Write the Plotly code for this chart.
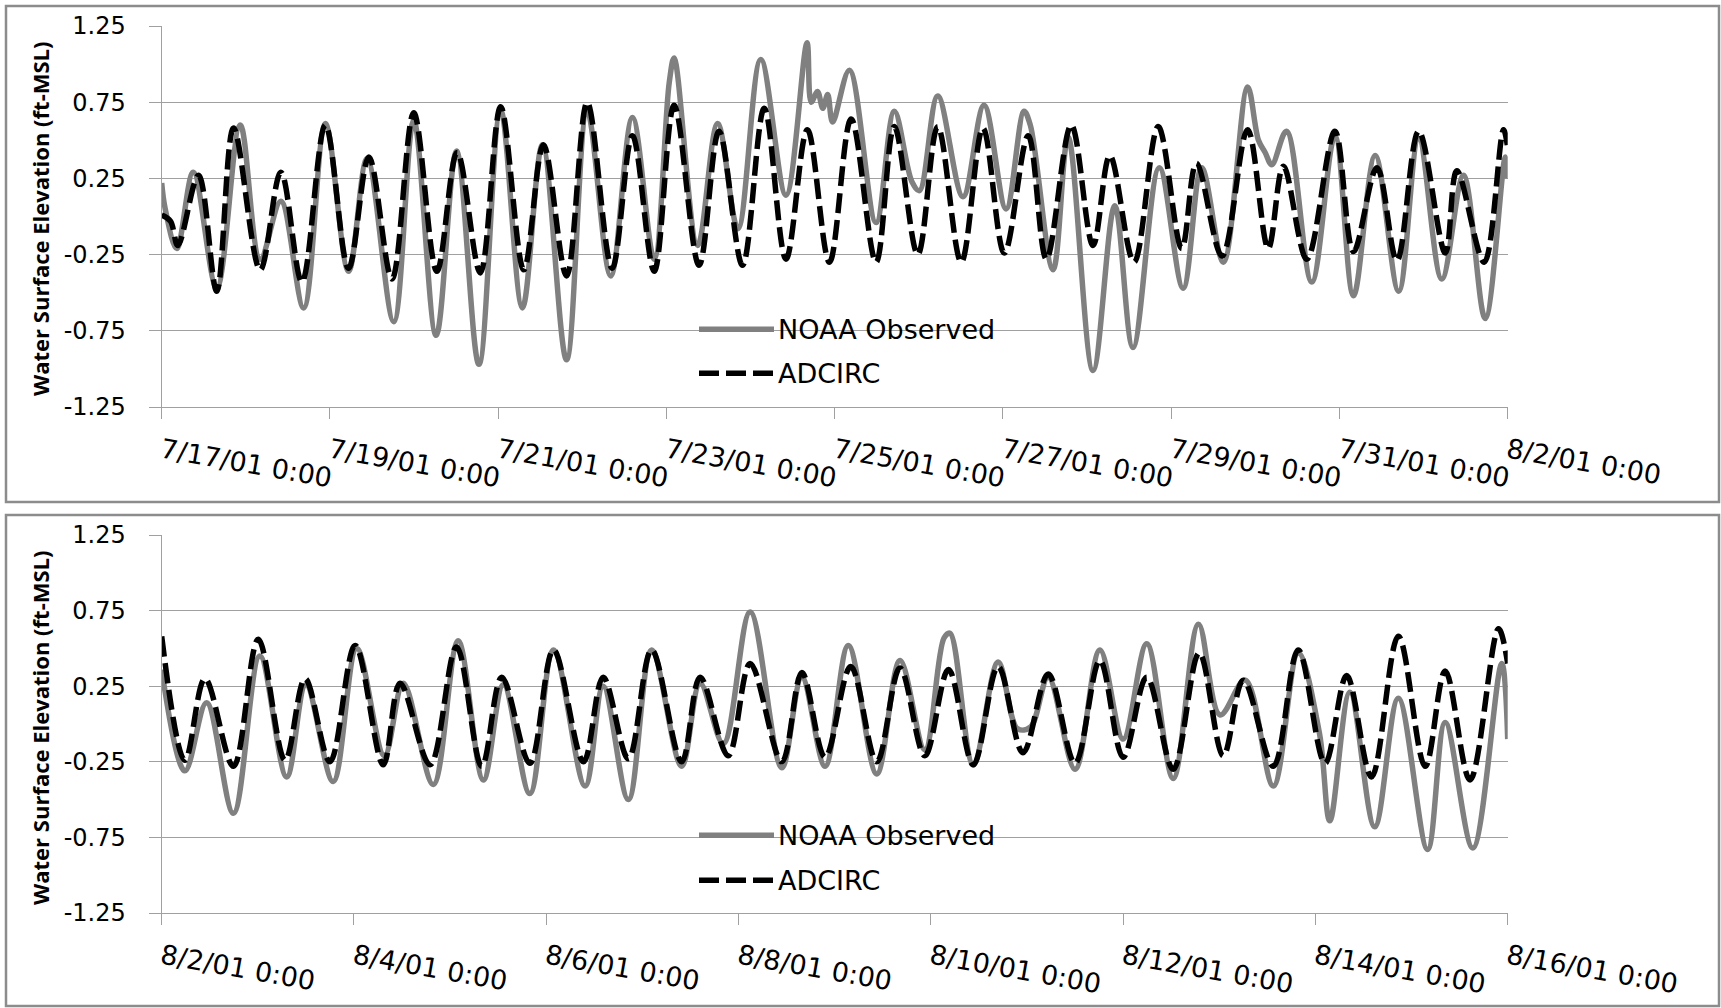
import pandas as pd
import plotly.graph_objects as go

# ---------------- DATA ----------------
# Panel 1 : 7/17/2001 -> 8/2/2001 (hours since 7/17/01 0:00)
p1_start = "2001-07-17 00:00"
p1_end = "2001-08-02 00:00"
p1_obs_hours = [0, 1, 4.3, 9.0, 15.7, 22.4, 28.1, 34.0, 40.5, 46.7, 53.3, 58.6, 66.2, 71.9,
                78.3, 84.1, 90.5, 96.7, 102.9, 108.6, 115.5, 121.4, 128.1, 134.3, 140.5,
                144.8, 146.2, 152.9, 158.6, 164.4, 170.9, 178.1, 184.1, 185.3, 187.1, 188.6,
                190.0, 191.4, 196.2, 203.8, 209.0, 214.0, 216.2, 221.4, 228.6, 234.6, 240.9,
                246.0, 247.8, 254.3, 258.6, 265.7, 271.9, 277.1, 284.6, 291.4, 296.7, 302.9,
                309.8, 312.9, 314.8, 316.7, 320.9, 328.1, 334.7, 340.0, 346.2, 352.9, 358.6,
                365.2, 371.4, 377.6, 383.3, 384.0]
p1_obs_vals = [0.22, 0.05, -0.21, 0.29, -0.47, 0.60, -0.28, 0.10, -0.60, 0.61, -0.36, 0.38, -0.69, 0.63,
               -0.78, 0.43, -0.97, 0.70, -0.60, 0.47, -0.94, 0.69, -0.39, 0.65, -0.28,
               0.88, 1.04, -0.19, 0.61, -0.08, 1.03, 0.14, 1.14, 0.75, 0.82, 0.71,
               0.80, 0.62, 0.96, -0.04, 0.69, 0.23, 0.17, 0.79, 0.13, 0.73, 0.05,
               0.69, 0.60, -0.35, 0.52, -1.01, 0.07, -0.86, 0.32, -0.47, 0.32, -0.30,
               0.85, 0.50, 0.42, 0.34, 0.56, -0.43, 0.53, -0.52, 0.40, -0.49, 0.51,
               -0.41, 0.27, -0.67, 0.39, 0.25]
p1_adc_hours = [0, 2.5, 4.6, 10.5, 15.7, 20.5, 28.1, 34.0, 40.0, 46.7, 53.3, 59.1, 65.7, 71.9,
                78.5, 84.3, 90.9, 96.7, 103.3, 108.9, 115.5, 121.4, 128.5, 134.3, 140.5, 146.2,
                153.3, 159.0, 165.7, 171.9, 178.1, 184.2, 190.5, 196.7, 203.8, 209.0, 215.7,
                221.4, 228.1, 234.3, 240.4, 247.2, 252.4, 259.5, 265.7, 270.5, 277.4, 284.3,
                291.0, 295.2, 302.5, 309.8, 315.7, 320.0, 326.7, 334.7, 340.0, 346.7, 352.4,
                358.6, 366.2, 369.5, 377.3, 382.8, 384.0]
p1_adc_vals = [0.01, -0.03, -0.19, 0.27, -0.49, 0.58, -0.35, 0.29, -0.43, 0.60, -0.34, 0.39, -0.41, 0.68,
               -0.36, 0.42, -0.37, 0.72, -0.35, 0.47, -0.39, 0.75, -0.34, 0.53, -0.36, 0.73,
               -0.32, 0.56, -0.32, 0.71, -0.28, 0.57, -0.30, 0.64, -0.30, 0.59, -0.25,
               0.59, -0.30, 0.58, -0.24, 0.53, -0.28, 0.60, -0.19, 0.40, -0.30, 0.59,
               -0.21, 0.35, -0.26, 0.57, -0.21, 0.33, -0.28, 0.56, -0.23, 0.32, -0.29,
               0.56, -0.24, 0.30, -0.30, 0.57, 0.45]

# Panel 2 : 8/2/2001 -> 8/16/2001 (hours since 8/2/01 0:00)
p2_start = "2001-08-02 00:00"
p2_end = "2001-08-16 00:00"
p2_obs_hours = [0, 5.8, 11.2, 17.9, 24.5, 31.2, 36.0, 42.8, 48.7, 55.6, 60.3, 67.8, 74.0, 80.3,
                85.3, 91.9, 97.8, 105.7, 110.2, 116.5, 122.3, 129.8, 134.4, 140.2, 146.9, 154.8,
                159.8, 165.6, 171.4, 178.5, 184.3, 190.5, 195.3, 196.8, 202.6, 208.8, 213.6,
                216.9, 221.3, 228.0, 234.2, 240.0, 245.9, 252.5, 258.8, 264.2, 270.5, 277.5,
                283.7, 289.0, 291.6, 296.6, 302.8, 308.7, 316.0, 320.4, 327.3, 334.5, 336.0]
p2_obs_vals = [0.36, -0.31, 0.14, -0.59, 0.45, -0.35, 0.26, -0.38, 0.50, -0.21, 0.27, -0.40, 0.55, -0.37,
               0.26, -0.46, 0.49, -0.41, 0.25, -0.50, 0.49, -0.28, 0.27, -0.13, 0.74, -0.29,
               0.31, -0.28, 0.52, -0.33, 0.42, -0.17, 0.57, 0.60, -0.27, 0.41, -0.03,
               -0.02, 0.31, -0.30, 0.49, -0.10, 0.53, -0.36, 0.66, 0.06, 0.29, -0.41,
               0.47, -0.06, -0.64, 0.21, -0.68, 0.17, -0.83, 0.01, -0.82, 0.40, -0.10]
p2_adc_hours = [0, 5.8, 10.8, 17.9, 24.1, 30.8, 35.8, 42.0, 48.3, 55.3, 59.5, 67.0, 73.6, 79.9,
                84.9, 91.9, 97.8, 105.3, 110.2, 116.5, 122.3, 129.8, 134.4, 141.4, 146.9, 154.8,
                159.8, 165.6, 172.0, 178.5, 184.3, 190.5, 196.4, 202.6, 208.8, 215.0, 221.3,
                228.0, 234.2, 240.0, 245.9, 252.5, 259.0, 265.0, 270.0, 277.5, 283.7, 290.4,
                295.8, 302.0, 308.7, 315.4, 320.4, 326.6, 333.7, 336.0]
p2_adc_vals = [0.58, -0.24, 0.30, -0.28, 0.56, -0.24, 0.30, -0.25, 0.52, -0.27, 0.27, -0.27, 0.51, -0.28,
               0.31, -0.26, 0.49, -0.25, 0.31, -0.23, 0.49, -0.25, 0.31, -0.21, 0.40, -0.25,
               0.34, -0.22, 0.38, -0.25, 0.37, -0.21, 0.36, -0.27, 0.38, -0.19, 0.33,
               -0.26, 0.42, -0.22, 0.31, -0.30, 0.47, -0.21, 0.29, -0.28, 0.49, -0.26,
               0.32, -0.35, 0.58, -0.28, 0.35, -0.37, 0.63, 0.40]

y_tickvals = [-1.25, -0.75, -0.25, 0.25, 0.75, 1.25]
y_ticktext = ["-1.25", "-0.75", "-0.25", "0.25", "0.75", "1.25"]
p1_tick_dates = ["2001-07-17", "2001-07-19", "2001-07-21", "2001-07-23", "2001-07-25",
                 "2001-07-27", "2001-07-29", "2001-07-31", "2001-08-02"]
p1_tick_text = ["7/17/01 0:00", "7/19/01 0:00", "7/21/01 0:00", "7/23/01 0:00", "7/25/01 0:00",
                "7/27/01 0:00", "7/29/01 0:00", "7/31/01 0:00", "8/2/01 0:00"]
p2_tick_dates = ["2001-08-02", "2001-08-04", "2001-08-06", "2001-08-08", "2001-08-10",
                 "2001-08-12", "2001-08-14", "2001-08-16"]
p2_tick_text = ["8/2/01 0:00", "8/4/01 0:00", "8/6/01 0:00", "8/8/01 0:00", "8/10/01 0:00",
                "8/12/01 0:00", "8/14/01 0:00", "8/16/01 0:00"]
series_names = ["NOAA Observed", "ADCIRC"]
y_title = "Water Surface Elevation (ft-MSL)"

# ---------------- STYLE ----------------
W, H = 1721, 1008
FONT = "DejaVu Sans"
TITLE_FONT = "Open Sans"
OBS_COLOR = "#808080"
ADC_COLOR = "#000000"
GRID = "#a0a0a0"


def px_x(x):
    return x / W


def px_y(y):
    return 1 - y / H


def to_time(start, hours):
    return pd.Timestamp(start) + pd.to_timedelta(hours, unit="h")


fig = go.Figure()

panels = [
    (p1_start, p1_obs_hours, p1_obs_vals, p1_adc_hours, p1_adc_vals, "x", "y"),
    (p2_start, p2_obs_hours, p2_obs_vals, p2_adc_hours, p2_adc_vals, "x2", "y2"),
]
for start, oh, ov, ah, av, xa, ya in panels:
    fig.add_trace(go.Scatter(x=to_time(start, oh), y=ov, mode="lines", name=series_names[0],
                             line=dict(color=OBS_COLOR, width=5.5, shape="spline", smoothing=1.0),
                             xaxis=xa, yaxis=ya, showlegend=False))
    fig.add_trace(go.Scatter(x=to_time(start, ah), y=av, mode="lines", name=series_names[1],
                             line=dict(color=ADC_COLOR, width=5.5, dash="20px,7px", shape="spline",
                                       smoothing=1.0),
                             xaxis=xa, yaxis=ya, showlegend=False))

xdom = [px_x(161.7), px_x(1507.7)]
common_x = dict(domain=xdom, showgrid=False, showline=True, linecolor=GRID, linewidth=1.3,
                ticks="outside", ticklen=11, tickcolor=GRID, tickwidth=1.3, tickangle=10,
                automargin=False, ticklabelstandoff=6, ticklabelshift=0,
                tickfont=dict(family=FONT, size=27, color="#000000"))
common_y = dict(range=[-1.25, 1.25], tickvals=y_tickvals, ticktext=y_ticktext,
                showgrid=True, gridcolor=GRID, gridwidth=1.3, zeroline=False,
                showline=True, linecolor=GRID, linewidth=1.3, ticks="outside", ticklen=12,
                tickcolor=GRID, tickwidth=1.3, ticklabelstandoff=18, automargin=False,
                tickfont=dict(family=FONT, size=24, color="#000000"))

fig.update_layout(
    width=W, height=H, autosize=False, margin=dict(l=0, r=0, t=0, b=0, pad=0),
    paper_bgcolor="white", plot_bgcolor="white", showlegend=False,
    font=dict(family=FONT, color="#000000"),
    xaxis=dict(common_x, range=[p1_start, p1_end], tickvals=p1_tick_dates, ticktext=p1_tick_text,
               anchor="y"),
    yaxis=dict(common_y, domain=[px_y(407), px_y(26)], anchor="x"),
    xaxis2=dict(common_x, range=[p2_start, p2_end], tickvals=p2_tick_dates, ticktext=p2_tick_text,
                anchor="y2"),
    yaxis2=dict(common_y, domain=[px_y(913), px_y(535)], anchor="x2"),
)

shapes = []
annotations = []
# chart boxes
for (x0, y0, x1, y1) in [(6, 6, 1719, 502), (6, 515, 1719, 1006)]:
    shapes.append(dict(type="rect", xref="paper", yref="paper", x0=px_x(x0), x1=px_x(x1),
                       y0=px_y(y1), y1=px_y(y0), line=dict(color="#8c8c8c", width=2.5),
                       fillcolor="rgba(0,0,0,0)", layer="below"))

# y titles
for yc in [219, 728]:
    annotations.append(dict(xref="paper", yref="paper", x=px_x(40), y=px_y(yc), text="<b>%s</b>" % y_title,
                            textangle=-90, showarrow=False, xanchor="center", yanchor="middle",
                            font=dict(family=TITLE_FONT, size=22, color="#000000")))

# legends (one per panel)
for y_obs, y_adc in [(329.3, 373.2), (835.3, 880.3)]:
    shapes.append(dict(type="line", xref="paper", yref="paper", x0=px_x(699), x1=px_x(774),
                       y0=px_y(y_obs), y1=px_y(y_obs), line=dict(color=OBS_COLOR, width=5.5)))
    shapes.append(dict(type="line", xref="paper", yref="paper", x0=px_x(699), x1=px_x(774),
                       y0=px_y(y_adc), y1=px_y(y_adc), line=dict(color=ADC_COLOR, width=5.5, dash="20px,7px")))
    annotations.append(dict(xref="paper", yref="paper", x=px_x(776), y=px_y(y_obs), text=series_names[0],
                            showarrow=False, xanchor="left", yanchor="middle",
                            font=dict(family=FONT, size=27, color="#000000")))
    annotations.append(dict(xref="paper", yref="paper", x=px_x(776), y=px_y(y_adc), text=series_names[1],
                            showarrow=False, xanchor="left", yanchor="middle",
                            font=dict(family=FONT, size=27, color="#000000")))

fig.update_layout(shapes=shapes, annotations=annotations)

fig.write_html("out.html", config={"displayModeBar": False, "responsive": False},
               post_script="document.body.style.margin='0';")
